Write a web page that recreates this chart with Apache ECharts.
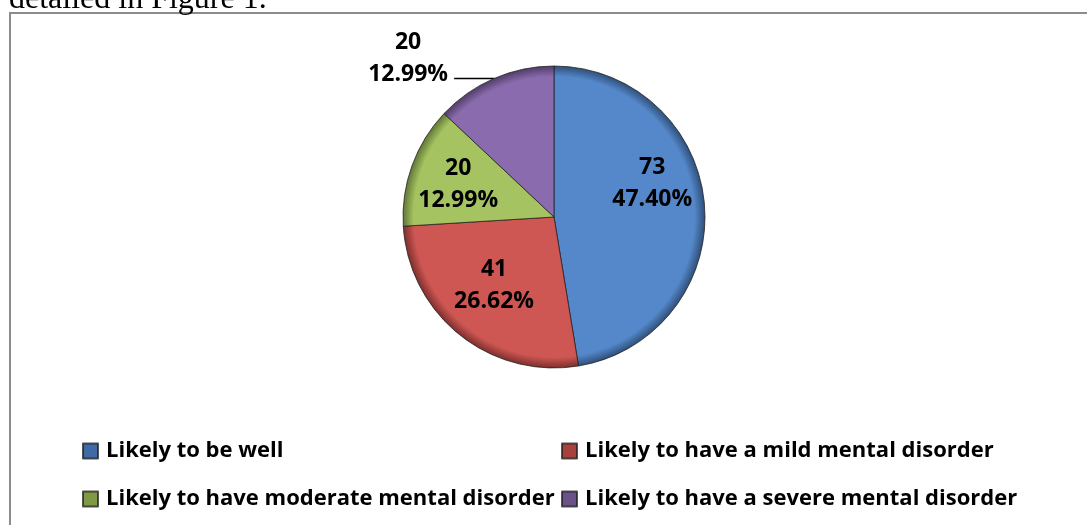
<!DOCTYPE html>
<html>
<head>
<meta charset="utf-8">
<script src="https://cdn.jsdelivr.net/npm/echarts@6/dist/echarts.min.js"></script>
<style>
  html, body { margin: 0; padding: 0; background: #fff; }
  #chart { width: 1087px; height: 525px; }
</style>
</head>
<body>
<div id="chart"></div>
<script>
const categories = [
  'Likely to be well',
  'Likely to have a mild mental disorder',
  'Likely to have moderate mental disorder',
  'Likely to have a severe mental disorder'
]
const counts = [73, 41, 20, 20]
const percents = ['47.40%', '26.62%', '12.99%', '12.99%']

const colors = ['#5588ca', '#ce5653', '#a5c360', '#8a6bad']
const edgeColors = ['#2f4f7a', '#7d2f2d', '#617636', '#503d68']
const legendColors = ['#3f6aa6', '#a8403d', '#7f9a45', '#6a5188']
// Excel-like label nudges for the inside labels
const labelOffsets = [[20, -27], [-11, 7], [-22, -6], [0, 0]]

const pieCenter = [554, 217]
const pieRadius = 151

const chart = echarts.init(document.getElementById('chart'))

function bevel(i) {
  return {
    type: 'radial',
    x: pieCenter[0], y: pieCenter[1], r: pieRadius,
    global: true,
    colorStops: [
      { offset: 0, color: colors[i] },
      { offset: 0.93, color: colors[i] },
      { offset: 1, color: edgeColors[i] }
    ]
  }
}

const pieData = categories.map((name, i) => {
  const item = {
    name: name,
    value: counts[i],
    itemStyle: { color: bevel(i) },
    label: { offset: labelOffsets[i] }
  }
  if (i === 3) {
    item.label = {
      position: 'outside',
      formatter: '{a|{c}}\n{a|' + percents[i] + '}',
      padding: [0, 0, 40, 0],
      rich: {
        a: { width: 82, align: 'center', fontSize: 23, fontWeight: 'bold', lineHeight: 32, fontFamily: 'Open Sans', color: '#000' }
      }
    }
    item.labelLine = { show: true, length: 0, length2: 40, lineStyle: { color: '#000', width: 1.5 } }
  }
  return item
})

const legendText = {
  fontSize: 22,
  fontWeight: 'bold',
  fontFamily: 'Open Sans',
  color: '#000',
  lineHeight: 24,
  padding: [0, 0, 0, 3]
}

chart.setOption({
  animation: false,
  color: colors,
  graphic: [
    {
      type: 'rect',
      shape: { x: 10, y: 13, width: 1100, height: 540 },
      style: { fill: 'none', stroke: '#8c8c8c', lineWidth: 2 }
    },
    {
      type: 'text',
      x: 9, y: -16,
      style: { text: 'detailed in Figure 1.', font: '32px "Liberation Serif"', fill: '#000' }
    }
  ],
  legend: [
    {
      orient: 'vertical',
      left: 77, top: 434,
      itemWidth: 15, itemHeight: 15, itemGap: 24,
      icon: 'rect',
      textStyle: legendText,
      data: [0, 2].map(i => ({ name: categories[i], itemStyle: { color: legendColors[i] } }))
    },
    {
      orient: 'vertical',
      left: 556, top: 434,
      itemWidth: 15, itemHeight: 15, itemGap: 24,
      icon: 'rect',
      textStyle: legendText,
      data: [1, 3].map(i => ({ name: categories[i], itemStyle: { color: legendColors[i] } }))
    }
  ],
  series: [
    {
      type: 'pie',
      center: pieCenter,
      radius: pieRadius,
      startAngle: 90,
      clockwise: true,
      avoidLabelOverlap: false,
      itemStyle: { borderColor: 'rgba(30,30,30,0.75)', borderWidth: 1 },
      label: {
        show: true,
        position: 'inside',
        formatter: p => '{b|' + p.value + '}\n{b|' + percents[p.dataIndex] + '}',
        rich: {
          b: { fontSize: 23, fontWeight: 'bold', lineHeight: 32, fontFamily: 'Open Sans', color: '#000', align: 'center' }
        }
      },
      labelLine: { show: false },
      emphasis: { disabled: true },
      data: pieData
    }
  ]
})
</script>
</body>
</html>
